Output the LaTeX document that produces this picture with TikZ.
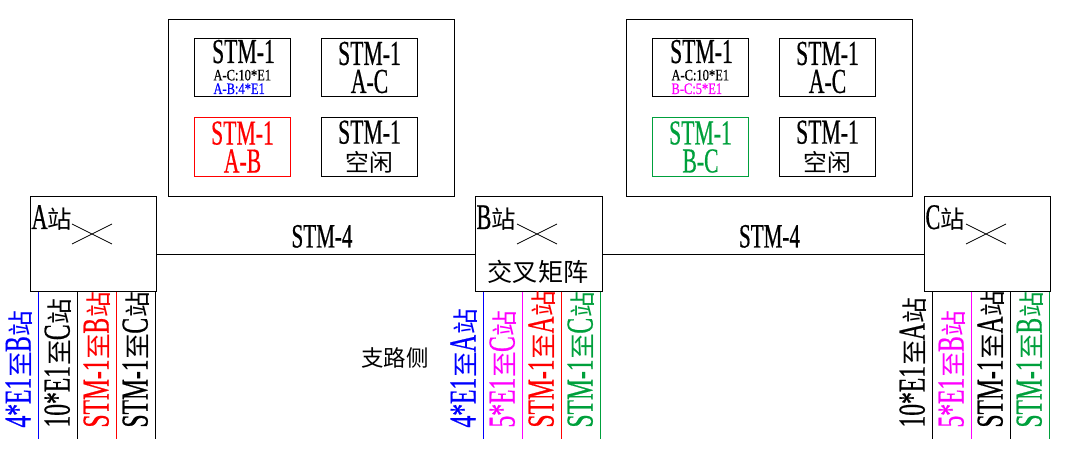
\documentclass[tikz,border=0pt]{standalone}
\usepackage{fontspec}
\setmainfont{Liberation Serif}[FakeStretch=0.62,FakeBold=0.5]
\newfontfamily\narrowsmall{Liberation Serif}[FakeStretch=0.78,FakeBold=0.5]
\newfontfamily\cjk{Noto Sans CJK SC}[Scale=0.68]
\newcommand{\zh}[1]{{\cjk #1}}
\newcommand{\setfs}[2]{\fontsize{#1}{#2}\selectfont}
\usetikzlibrary{positioning,calc}
\definecolor{TribBlue}{RGB}{0,0,255}
\definecolor{TribMag}{RGB}{255,0,255}
\definecolor{TribRed}{RGB}{255,0,0}
\definecolor{TribGreen}{RGB}{0,160,60}

\begin{document}
\begin{tikzpicture}[x=1pt,y=-1pt,line width=1pt,
  every node/.style={inner sep=0pt},
  station/.style={draw,minimum width=126pt,minimum height=95pt,anchor=north west},
  group/.style={draw,minimum width=286pt,minimum height=177pt,anchor=north west},
  slot/.style={draw,minimum width=96pt,minimum height=58pt,anchor=north west,
    align=center,font=\setfs{35}{28}},
  big/.style={font=\setfs{35}{35}},
  tiny/.style={font=\narrowsmall\setfs{16}{16},anchor=base west},
  stlab/.style={font=\setfs{36}{36},anchor=base west},
  lnklab/.style={font=\setfs{34}{34},above=6.7pt,xshift=6pt},
  trib/.style={rotate=90,anchor=west,font=\setfs{38}{38}}]
\useasboundingbox (0,0) rectangle (1072,462);

% multiplex section, upper boxes
\node[group] (G1) at (168,19) {};
\node[group] (G2) at (626,19) {};

\node[slot] (g1a) at ([shift={(26,19)}]G1.north west) {};
\node[big,anchor=base] (g1a1) at ([shift={(1,25)}]g1a.north) {STM-1};
\node[tiny] (g1a2) at ([shift={(19,42.4)}]g1a.north west) {A-C:10*E1};
\node[tiny,text=TribBlue] (g1a3) at ([shift={(19,56)}]g1a.north west) {A-B:4*E1};
\node[slot] (g1b) at ([shift={(153,19)}]G1.north west) {STM-1\\A-C};
\node[slot,minimum height=59pt,draw=TribRed,text=TribRed] (g1c) at ([shift={(26,98)}]G1.north west) {STM-1\\A-B};
\node[slot,minimum height=59pt] (g1d) at ([shift={(153,98)}]G1.north west) {STM-1\\\zh{空闲}};

\node[slot] (g2a) at ([shift={(26,19)}]G2.north west) {};
\node[big,anchor=base] (g2a1) at ([shift={(1,25)}]g2a.north) {STM-1};
\node[tiny] (g2a2) at ([shift={(19,42.4)}]g2a.north west) {A-C:10*E1};
\node[tiny,text=TribMag] (g2a3) at ([shift={(19,56)}]g2a.north west) {B-C:5*E1};
\node[slot] (g2b) at ([shift={(153,19)}]G2.north west) {STM-1\\A-C};
\node[slot,minimum height=59pt,draw=TribGreen,text=TribGreen] (g2c) at ([shift={(26,98)}]G2.north west) {STM-1\\B-C};
\node[slot,minimum height=59pt] (g2d) at ([shift={(153,98)}]G2.north west) {STM-1\\\zh{空闲}};

% stations
\node[station] (A) at (30,196) {};
\node[station,minimum width=127pt] (B) at (475,196) {};
\node[station] (C) at (924,196) {};
\foreach \s in {A,B,C}{
  \node[stlab] (lab\s) at ([shift={(1,33)}]\s.north west) {\s\zh{站}};
  \coordinate (x\s) at ([shift={(62,38)}]\s.north west);
  \draw[line width=0.8pt] ([shift={(-20,-10)}]x\s) -- ([shift={(20,10)}]x\s)
        ([shift={(-20,10)}]x\s) -- ([shift={(20,-10)}]x\s);
}
\node[anchor=base,font=\setfs{37}{37}] (mat) at ([shift={(-1,-10)}]B.south) {\zh{交叉矩阵}};

\coordinate (lnk) at (0,255);
\draw (A.east |- lnk) -- node[lnklab] (sAB) {STM-4} (B.west |- lnk);
\draw (B.east |- lnk) -- node[lnklab] (sBC) {STM-4} (C.west |- lnk);

% tributary side
\coordinate (tb) at (0,439);
\coordinate (tt) at (0,428);
\foreach \k/\clr/\txt in {0/TribBlue/{4*E1\zh{至}B\zh{站}},1/black/{10*E1\zh{至}C\zh{站}},
    2/TribRed/{STM-1\zh{至}B\zh{站}},3/black/{STM-1\zh{至}C\zh{站}}}{
  \draw[\clr] ([xshift=8+39*\k]A.south west) coordinate (a\k) -- (a\k |- tb);
  \node[trib,text=\clr] (ta\k) at ($(a\k |- tt)+(-19,0)$) {\txt};
}
\foreach \k/\clr/\txt in {0/TribBlue/{4*E1\zh{至}A\zh{站}},1/TribMag/{5*E1\zh{至}C\zh{站}},
    2/TribRed/{STM-1\zh{至}A\zh{站}},3/TribGreen/{STM-1\zh{至}C\zh{站}}}{
  \draw[\clr] ([xshift=8+39*\k]B.south west) coordinate (b\k) -- (b\k |- tb);
  \node[trib,text=\clr] (tb\k) at ($(b\k |- tt)+(-19,0)$) {\txt};
}
\foreach \k/\clr/\txt in {0/black/{10*E1\zh{至}A\zh{站}},1/TribMag/{5*E1\zh{至}B\zh{站}},
    2/black/{STM-1\zh{至}A\zh{站}},3/TribGreen/{STM-1\zh{至}B\zh{站}}}{
  \draw[\clr] ([xshift=8+39*\k]C.south west) coordinate (c\k) -- (c\k |- tb);
  \node[trib,text=\clr] (tc\k) at ($(c\k |- tt)+(-19,0)$) {\txt};
}
\node[font=\setfs{33}{33}] (side) at (395,357.5) {\zh{支路侧}};
\end{tikzpicture}
\end{document}
